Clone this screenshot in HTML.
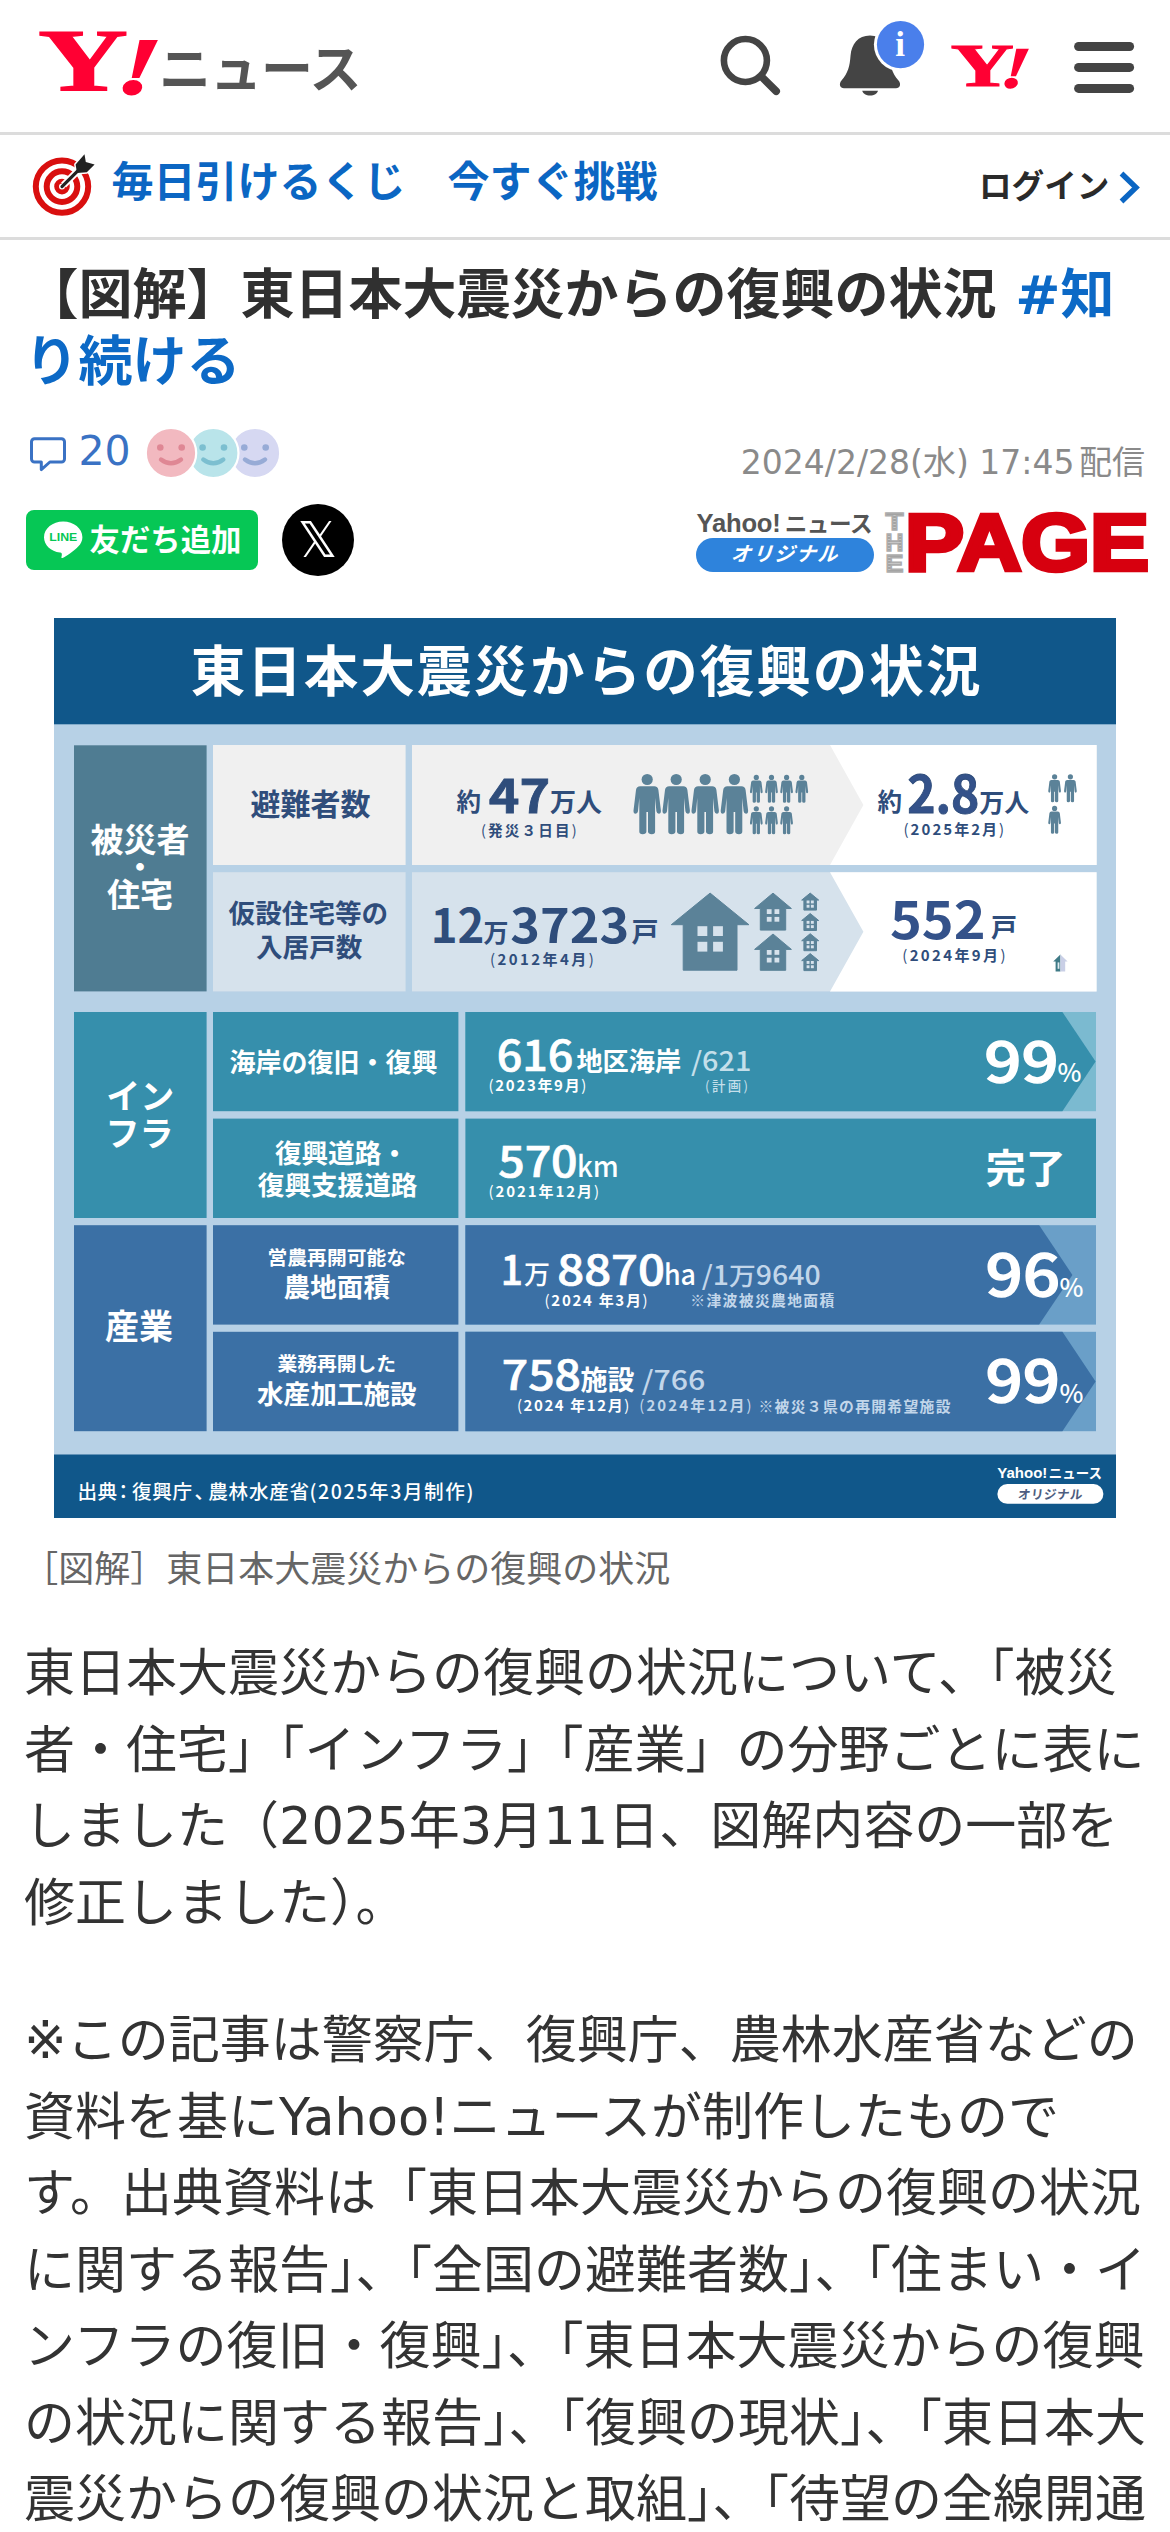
<!DOCTYPE html>
<html lang="ja">
<head>
<meta charset="utf-8">
<meta name="viewport" content="width=1170">
<title>【図解】東日本大震災からの復興の状況 - Yahoo!ニュース</title>
<style>
html,body{margin:0;padding:0;background:#fff;}
body{width:1170px;height:2532px;overflow:hidden;position:relative;
  font-family:"DejaVu Sans","Noto Sans CJK JP",sans-serif;color:#222;-webkit-font-smoothing:antialiased;}
.abs{position:absolute;}
/* header */
#hdr{left:0;top:0;width:1170px;height:132px;border-bottom:3px solid #dcdcdc;background:#fff;}
#logo-news{left:159px;top:30px;font-size:52px;line-height:80px;font-weight:700;color:#555;letter-spacing:-1px;white-space:nowrap;}
/* promo bar */
#promo{left:0;top:135px;width:1170px;height:102px;border-bottom:3px solid #dcdcdc;background:#fff;}
#promo-txt{left:111.5px;top:152.3px;font-size:42px;line-height:62px;font-weight:700;color:#0b66c3;white-space:nowrap;}
#login{left:979px;top:160.5px;font-size:32.6px;line-height:52px;font-weight:700;color:#2a2a2a;white-space:nowrap;}
/* title */
#title{left:24.5px;top:261.8px;width:1120px;font-size:54px;line-height:67px;font-weight:700;color:#303030;margin:0;}
#title a{color:#0c69c6;text-decoration:none;}
#cmt{left:78.5px;top:424.2px;font-size:41px;line-height:54px;color:#3a72c4;}
#date span{margin-left:4.6px;}
#date{right:25px;top:438.6px;font-size:33px;line-height:48px;color:#8a8a8a;white-space:nowrap;}
#line-btn{left:26px;top:510px;width:232px;height:60px;border-radius:8px;background:#06c755;}
#line-txt{left:89.5px;top:517.6px;font-size:30.4px;line-height:46px;font-weight:700;color:#fff;white-space:nowrap;}
#xbtn{left:282px;top:504px;width:72px;height:72px;border-radius:50%;background:#000;}
#xlogo{left:281.6px;top:504px;width:72px;height:72px;line-height:73px;text-align:center;color:#fff;font-family:"DejaVu Sans",sans-serif;font-size:49px;}
#ynews{left:696.5px;top:505.5px;font-family:"Liberation Sans","Noto Sans CJK JP",sans-serif;font-size:25.6px;line-height:34px;font-weight:700;color:#555;white-space:nowrap;letter-spacing:-0.2px;}
#ynews span{font-size:22.6px;margin-left:4px;letter-spacing:-0.4px;}
#pill{left:696px;top:538px;width:178px;height:34px;border-radius:17px;background:#2e83dc;}
#pill-txt{left:696px;top:538px;width:178px;height:34px;line-height:33px;text-align:center;color:#fff;font-size:20px;font-weight:700;font-style:italic;letter-spacing:1.6px;transform:skewX(-4deg);}
/* caption / body */
#cap{left:22.2px;top:1542.8px;font-size:36px;line-height:54px;color:#666;white-space:nowrap;}
#body1{left:24px;top:1636px;width:1130px;font-size:51px;line-height:76.5px;color:#333;margin:0;}
#body2{left:24px;top:2003px;width:1130px;font-size:51px;line-height:76.5px;color:#333;margin:0;}
#fig{left:54px;top:618px;width:1062px;height:900px;}
</style>
</head>
<body>
<!-- HEADER -->
<div id="hdr" class="abs"></div>
<svg id="ylogo" class="abs" style="left:30px;top:20px;width:140px;height:90px" viewBox="0 0 140 90">
  <text x="8" y="70.4" font-family="'Liberation Serif','DejaVu Serif',serif" font-weight="700" font-size="88" fill="#ff0033" stroke="#ff0033" stroke-width="1.2" textLength="90" lengthAdjust="spacingAndGlyphs">Y</text>
  <text x="86" y="73.2" font-family="'Liberation Serif','DejaVu Serif',serif" font-weight="700" font-style="italic" font-size="79" fill="#ff0033" stroke="#ff0033" stroke-width="2.6" textLength="39" lengthAdjust="spacingAndGlyphs" transform="skewX(-7) translate(9,0)">!</text>
</svg>
<div id="logo-news" class="abs">ニュース</div>
<svg id="hicons" class="abs" style="left:700px;top:10px;width:460px;height:115px" viewBox="700 10 460 115">
  <!-- search -->
  <circle cx="745.4" cy="60.5" r="21.5" fill="none" stroke="#444" stroke-width="6.6"/>
  <line x1="761.5" y1="76.6" x2="776.2" y2="91.3" stroke="#444" stroke-width="7.6" stroke-linecap="round"/>
  <!-- bell -->
  <path d="M870 35.6C858 35.6 851.5 44 850.5 56C849.8 66 848 73 841.5 80.5C838.5 84 840 88.2 844 88.2L896 88.2C900 88.2 901.5 84 898.5 80.5C892 73 890.2 66 889.5 56C888.5 44 882 35.6 870 35.6Z" fill="#444"/>
  <path d="M862.2 90.8h15.8c-.8 3-3.8 4.8-7.9 4.8s-7.1-1.8-7.9-4.8z" fill="#444"/>
  <circle cx="900.5" cy="44.6" r="26.6" fill="#fff"/>
  <circle cx="900.5" cy="44.6" r="23.6" fill="#4a7feb"/>
  <text x="900" y="56" text-anchor="middle" font-family="'Liberation Serif','DejaVu Serif',serif" font-weight="700" font-size="35" fill="#fff">i</text>
  <!-- small Y! -->
  <text x="950.5" y="86" font-family="'Liberation Serif','DejaVu Serif',serif" font-weight="700" font-size="62" fill="#ff0033" stroke="#ff0033" stroke-width="1" textLength="63.5" lengthAdjust="spacingAndGlyphs">Y</text>
  <text x="1002" y="87.5" font-family="'Liberation Serif','DejaVu Serif',serif" font-weight="700" font-style="italic" font-size="57" fill="#ff0033" stroke="#ff0033" stroke-width="1.8" textLength="27" lengthAdjust="spacingAndGlyphs" transform="skewX(-7) translate(8.6,0)">!</text>
  <!-- hamburger -->
  <g stroke="#444" stroke-width="9" stroke-linecap="round">
    <line x1="1078.6" y1="46.5" x2="1129.6" y2="46.5"/>
    <line x1="1078.6" y1="67.4" x2="1129.6" y2="67.4"/>
    <line x1="1078.6" y1="88.4" x2="1129.6" y2="88.4"/>
  </g>
</svg>
<!-- PROMO -->
<div id="promo" class="abs"></div>
<svg id="bull" class="abs" style="left:20px;top:140px;width:100px;height:90px" viewBox="20 140 100 90">
  <circle cx="62" cy="186.6" r="26.2" fill="#fff" stroke="#d90f0f" stroke-width="6"/>
  <circle cx="62" cy="186.6" r="15.3" fill="#fff" stroke="#d90f0f" stroke-width="6"/>
  <circle cx="62" cy="186.6" r="5.4" fill="#fff" stroke="#d90f0f" stroke-width="4.8"/>
  <line x1="63.5" y1="185.1" x2="80" y2="168.6" stroke="#fff" stroke-width="7" />
  <path d="M84.5 154.3L85.8 162L94.6 164.4L86.8 172.2L77 173L75.6 164.6z" fill="#fff" stroke="#fff" stroke-width="3" stroke-linejoin="round"/>
  <line x1="62" y1="186.6" x2="80" y2="168.6" stroke="#222" stroke-width="3.2" stroke-linecap="round"/>
  <path d="M84.5 154.3L85.8 162L94.6 164.4L86.8 172.2L77 173L75.6 164.6z" fill="#222"/>
</svg>
<svg class="abs" style="left:1110px;top:165px;width:40px;height:46px" viewBox="1110 165 40 46">
  <path d="M1121.5 173.5L1136 187.5L1121.5 201.5" fill="none" stroke="#0b66c3" stroke-width="5.4"/>
</svg>
<div id="promo-txt" class="abs">毎日引けるくじ　今すぐ挑戦</div>
<div id="login" class="abs">ログイン</div>
<!-- TITLE -->
<h1 id="title" class="abs">【図解】東日本大震災からの復興の状況 <a>#知<br>り続ける</a></h1>
<svg class="abs" style="left:20px;top:420px;width:280px;height:70px" viewBox="20 420 280 70">
  <path d="M34.5 438.8h27a3 3 0 0 1 3 3v17.2a3 3 0 0 1 -3 3h-11.6l-8.6 7.6v-7.6h-6.8a3 3 0 0 1 -3 -3v-17.2a3 3 0 0 1 3 -3z" fill="none" stroke="#3a72c4" stroke-width="3" stroke-linejoin="round"/>
  <g>
    <circle cx="255" cy="453" r="25.2" fill="#d6d8f2" stroke="#fff" stroke-width="2.2"/>
    <circle cx="244.3" cy="447.5" r="3.3" fill="#97abd6"/><circle cx="265.7" cy="447.5" r="3.3" fill="#97abd6"/>
    <path d="M245 459.5q10 7.6 20 0" fill="none" stroke="#97abd6" stroke-width="4.4" stroke-linecap="round"/>
    <circle cx="213.3" cy="453" r="25.2" fill="#b9e4ea" stroke="#fff" stroke-width="2.2"/>
    <circle cx="202.6" cy="447.5" r="3.3" fill="#7cbfd0"/><circle cx="224" cy="447.5" r="3.3" fill="#7cbfd0"/>
    <path d="M203.3 459.5q10 7.6 20 0" fill="none" stroke="#7cbfd0" stroke-width="4.4" stroke-linecap="round"/>
    <circle cx="171" cy="453" r="25.2" fill="#f2b9c0" stroke="#fff" stroke-width="2.2"/>
    <circle cx="160.3" cy="447.5" r="3.3" fill="#df8794"/><circle cx="181.7" cy="447.5" r="3.3" fill="#df8794"/>
    <path d="M161 459.5q10 7.6 20 0" fill="none" stroke="#df8794" stroke-width="4.4" stroke-linecap="round"/>
  </g>
</svg>
<div id="cmt" class="abs">20</div>
<div id="date" class="abs">2024/2/28(水) 17:45<span>配信</span></div>
<div id="line-btn" class="abs"></div>
<svg class="abs" style="left:40px;top:516px;width:48px;height:48px" viewBox="40 516 48 48">
  <path d="M63.2 521.6c-10.6 0-19.2 7-19.2 15.600000000000001 0 7.7 6.8 14.2 16 15.4.6.1 1.5.4 1.7.9.2.5.1 1.200000000000001.1 1.7l-.3 1.6c-.1.5-.4 1.9 1.6 1 2.1-.9 11.100000000000001-6.5 15.1-11.2 2.8-3 4.2-6.100000000000001 4.2-9.4 0-8.6-8.6-15.6-19.2-15.6z" fill="#fff"/>
  <text x="63.3" y="541.3" text-anchor="middle" font-family="'Liberation Sans','DejaVu Sans',sans-serif" font-weight="700" font-size="11.6" fill="#06c755" textLength="28" lengthAdjust="spacingAndGlyphs">LINE</text>
</svg>
<div id="line-txt" class="abs">友だち追加</div>
<div id="xbtn" class="abs"></div>
<div id="xlogo" class="abs">&#x1D54F;</div>
<!-- publisher logos -->
<div id="ynews" class="abs">Yahoo!<span>ニュース</span></div>
<div id="pill" class="abs"></div>
<div id="pill-txt" class="abs">オリジナル</div>
<svg class="abs" style="left:880px;top:505px;width:275px;height:75px" viewBox="880 505 275 75">
  <defs>
    <pattern id="stp" width="4" height="3" patternUnits="userSpaceOnUse"><rect width="4" height="2" fill="#a3a3a3"/><rect y="2" width="4" height="1" fill="#c6c6c6"/></pattern>
  </defs>
  <g font-family="'Liberation Sans','DejaVu Sans',sans-serif" font-weight="700" font-size="23" fill="url(#stp)" stroke="#adadad" stroke-width="1.4" text-anchor="middle">
    <text x="894.5" y="530" textLength="18" lengthAdjust="spacingAndGlyphs">T</text>
    <text x="894.5" y="551" textLength="18" lengthAdjust="spacingAndGlyphs">H</text>
    <text x="894.5" y="572" textLength="18" lengthAdjust="spacingAndGlyphs">E</text>
  </g>
  <text x="905" y="570.4" font-family="'Liberation Sans','DejaVu Sans',sans-serif" font-weight="700" font-size="80" fill="#d7000f" stroke="#d7000f" stroke-width="4.4" stroke-linejoin="miter" textLength="244" lengthAdjust="spacingAndGlyphs">PAGE</text>
</svg>
<!-- FIGURE -->
<svg id="fig" class="abs" viewBox="54 618 1062 900" font-family="'Noto Sans CJK JP','Liberation Sans',sans-serif" font-weight="700">
<rect x="54" y="618" width="1062" height="900" fill="#b7d1e6"/>
<rect x="54" y="618" width="1062" height="106.3" fill="#10578a"/>
<rect x="54" y="1454.5" width="1062" height="63.5" fill="#10578a"/>
<text x="586.6" y="690.5" text-anchor="middle" font-size="54.5" fill="#fff" letter-spacing="2.05">東日本大震災からの復興の状況</text>
<rect x="74" y="745.3" width="132.6" height="246.1" fill="#4f7c92"/>
<g fill="#fff" text-anchor="middle"><text x="140" y="851.5" font-size="33">被災者</text><text x="140" y="878" font-size="30">・</text><text x="140" y="907" font-size="33">住宅</text></g>
<rect x="213" y="745" width="192.6" height="120" fill="#f0f0f0"/>
<rect x="412" y="745" width="684.6" height="120" fill="#f0f0f0"/>
<path d="M830 745H1096.6V865H830L863.4 805Z" fill="#fff"/>
<text x="310.5" y="814.5" text-anchor="middle" font-size="30" fill="#2f4d7b">避難者数</text>
<rect x="213" y="872.2" width="192.6" height="119.2" fill="#d6e2ec"/>
<rect x="412" y="872.2" width="684.6" height="119.2" fill="#d6e2ec"/>
<path d="M830 872.2H1096.6V991.4H830L863.4 931.8Z" fill="#fff"/>
<g fill="#2f4d7b" text-anchor="middle" font-size="26.6"><text x="308.4" y="923.4">仮設住宅等の</text><text x="309.2" y="957.4">入居戸数</text></g>
<g fill="#2f4d7b">
<text x="456.6" y="810.6" font-size="24.5">約</text>
<text x="488.8" y="813.4" font-size="46.5" font-weight="700" textLength="61.4" lengthAdjust="spacingAndGlyphs" stroke="#2f4d7b" stroke-width="0.8">47</text>
<text x="550" y="812" font-size="26">万人</text>
<text x="481.0" y="836" font-size="14.6" font-weight="700" textLength="95.6" lengthAdjust="spacing"><tspan font-weight="400">(</tspan>発災３日目<tspan font-weight="400">)</tspan></text>
<text x="877.5" y="811.4" font-size="24.5">約</text>
<text x="907.2" y="813" font-size="51.5" font-weight="700" fill="#34528a" textLength="72.2" lengthAdjust="spacingAndGlyphs" stroke="#2f4d7b" stroke-width="0.9">2.8</text>
<text x="979.2" y="812.4" font-size="25">万人</text>
<text x="903.5" y="835" font-size="15" font-weight="700" textLength="100.7" lengthAdjust="spacing"><tspan font-weight="400">(</tspan>2025年2月<tspan font-weight="400">)</tspan></text>
<text x="430.7" y="943.4" font-size="47" font-weight="700" textLength="53.7" lengthAdjust="spacingAndGlyphs">12</text>
<text x="483.6" y="941.6" font-size="25">万</text>
<text x="510.3" y="943.4" font-size="47" font-weight="700" textLength="118.9" lengthAdjust="spacingAndGlyphs">3723</text>
<text x="631.4" y="941.6" font-size="27">戸</text>
<text x="490.0" y="964.6" font-size="15" font-weight="700" textLength="103.8" lengthAdjust="spacing"><tspan font-weight="400">(</tspan>2012年4月<tspan font-weight="400">)</tspan></text>
<text x="889.9" y="938.8" font-size="51.5" font-weight="700" fill="#34528a" textLength="95.7" lengthAdjust="spacingAndGlyphs">552</text>
<text x="991" y="937.4" font-size="26">戸</text>
<text x="902.2" y="961.4" font-size="15" font-weight="700" textLength="103.3" lengthAdjust="spacing"><tspan font-weight="400">(</tspan>2024年9月<tspan font-weight="400">)</tspan></text>
</g>
<g fill="#5b8298"><circle cx="647.2" cy="779.5" r="5.6"/><path d="M640.2 786.3L654.2 786.3Q657.8 786.3 658.4 789.9L660.9 810.4Q661.1 813.5 658.8 813.7Q656.8 813.7 656.4 811.3L655.1 797.9L655.1 831.5Q655.1 834.3 651.8 834.3Q648.2 834.3 648.0 831.5L648.0 811.9L646.4 811.9L646.4 831.5Q646.2 834.3 642.6 834.3Q639.3 834.3 639.3 831.5L639.3 797.9L638.0 811.3Q637.6 813.7 635.6 813.7Q633.3 813.5 633.5 810.4L636.0 789.9Q636.6 786.3 640.2 786.3Z"/></g>
<g fill="#5b8298"><circle cx="676.2" cy="779.5" r="5.6"/><path d="M669.2 786.3L683.2 786.3Q686.8 786.3 687.4 789.9L689.9 810.4Q690.1 813.5 687.8 813.7Q685.8 813.7 685.4 811.3L684.1 797.9L684.1 831.5Q684.1 834.3 680.8 834.3Q677.2 834.3 677.0 831.5L677.0 811.9L675.4 811.9L675.4 831.5Q675.2 834.3 671.6 834.3Q668.3 834.3 668.3 831.5L668.3 797.9L667.0 811.3Q666.6 813.7 664.6 813.7Q662.3 813.5 662.5 810.4L665.0 789.9Q665.6 786.3 669.2 786.3Z"/></g>
<g fill="#5b8298"><circle cx="705.2" cy="779.5" r="5.6"/><path d="M698.2 786.3L712.2 786.3Q715.8 786.3 716.4 789.9L718.9 810.4Q719.1 813.5 716.8 813.7Q714.8 813.7 714.4 811.3L713.1 797.9L713.1 831.5Q713.1 834.3 709.8 834.3Q706.2 834.3 706.0 831.5L706.0 811.9L704.4 811.9L704.4 831.5Q704.2 834.3 700.6 834.3Q697.3 834.3 697.3 831.5L697.3 797.9L696.0 811.3Q695.6 813.7 693.6 813.7Q691.3 813.5 691.5 810.4L694.0 789.9Q694.6 786.3 698.2 786.3Z"/></g>
<g fill="#5b8298"><circle cx="734.4" cy="779.5" r="5.6"/><path d="M727.4 786.3L741.4 786.3Q745.0 786.3 745.6 789.9L748.1 810.4Q748.3 813.5 746.0 813.7Q744.0 813.7 743.6 811.3L742.3 797.9L742.3 831.5Q742.3 834.3 739.0 834.3Q735.4 834.3 735.2 831.5L735.2 811.9L733.6 811.9L733.6 831.5Q733.4 834.3 729.8 834.3Q726.5 834.3 726.5 831.5L726.5 797.9L725.2 811.3Q724.8 813.7 722.8 813.7Q720.5 813.5 720.7 810.4L723.2 789.9Q723.8 786.3 727.4 786.3Z"/></g>
<g fill="#5b8298"><circle cx="756.3" cy="777.4" r="2.6"/><path d="M753.05 780.55L759.55 780.55Q761.21 780.55 761.49 782.22L762.65 791.72Q762.74 793.16 761.68 793.25Q760.75 793.25 760.56 792.14L759.96 785.93L759.96 801.5Q759.96 802.8 758.43 802.8Q756.76 802.8 756.67 801.5L756.67 792.42L755.93 792.42L755.93 801.5Q755.84 802.8 754.17 802.8Q752.64 802.8 752.64 801.5L752.64 785.93L752.04 792.14Q751.85 793.25 750.92 793.25Q749.86 793.16 749.95 791.72L751.11 782.22Q751.39 780.55 753.05 780.55Z"/></g>
<g fill="#5b8298"><circle cx="771.5" cy="777.4" r="2.6"/><path d="M768.25 780.55L774.75 780.55Q776.41 780.55 776.69 782.22L777.85 791.72Q777.94 793.16 776.88 793.25Q775.95 793.25 775.76 792.14L775.16 785.93L775.16 801.5Q775.16 802.8 773.63 802.8Q771.96 802.8 771.87 801.5L771.87 792.42L771.13 792.42L771.13 801.5Q771.04 802.8 769.37 802.8Q767.84 802.8 767.84 801.5L767.84 785.93L767.24 792.14Q767.05 793.25 766.12 793.25Q765.06 793.16 765.15 791.72L766.31 782.22Q766.59 780.55 768.25 780.55Z"/></g>
<g fill="#5b8298"><circle cx="786.6" cy="777.4" r="2.6"/><path d="M783.35 780.55L789.85 780.55Q791.51 780.55 791.79 782.22L792.95 791.72Q793.04 793.16 791.98 793.25Q791.05 793.25 790.86 792.14L790.26 785.93L790.26 801.5Q790.26 802.8 788.73 802.8Q787.06 802.8 786.97 801.5L786.97 792.42L786.23 792.42L786.23 801.5Q786.14 802.8 784.47 802.8Q782.94 802.8 782.94 801.5L782.94 785.93L782.34 792.14Q782.15 793.25 781.22 793.25Q780.16 793.16 780.25 791.72L781.41 782.22Q781.69 780.55 783.35 780.55Z"/></g>
<g fill="#5b8298"><circle cx="801.8" cy="777.4" r="2.6"/><path d="M798.55 780.55L805.05 780.55Q806.71 780.55 806.99 782.22L808.15 791.72Q808.24 793.16 807.18 793.25Q806.25 793.25 806.06 792.14L805.46 785.93L805.46 801.5Q805.46 802.8 803.93 802.8Q802.26 802.8 802.17 801.5L802.17 792.42L801.43 792.42L801.43 801.5Q801.34 802.8 799.67 802.8Q798.14 802.8 798.14 801.5L798.14 785.93L797.54 792.14Q797.35 793.25 796.42 793.25Q795.36 793.16 795.45 791.72L796.61 782.22Q796.89 780.55 798.55 780.55Z"/></g>
<g fill="#5b8298"><circle cx="756.3" cy="808.8" r="2.6"/><path d="M753.05 811.95L759.55 811.95Q761.21 811.95 761.49 813.62L762.65 823.12Q762.74 824.56 761.68 824.65Q760.75 824.65 760.56 823.54L759.96 817.33L759.96 832.9Q759.96 834.2 758.43 834.2Q756.76 834.2 756.67 832.9L756.67 823.82L755.93 823.82L755.93 832.9Q755.84 834.2 754.17 834.2Q752.64 834.2 752.64 832.9L752.64 817.33L752.04 823.54Q751.85 824.65 750.92 824.65Q749.86 824.56 749.95 823.12L751.11 813.62Q751.39 811.95 753.05 811.95Z"/></g>
<g fill="#5b8298"><circle cx="771.5" cy="808.8" r="2.6"/><path d="M768.25 811.95L774.75 811.95Q776.41 811.95 776.69 813.62L777.85 823.12Q777.94 824.56 776.88 824.65Q775.95 824.65 775.76 823.54L775.16 817.33L775.16 832.9Q775.16 834.2 773.63 834.2Q771.96 834.2 771.87 832.9L771.87 823.82L771.13 823.82L771.13 832.9Q771.04 834.2 769.37 834.2Q767.84 834.2 767.84 832.9L767.84 817.33L767.24 823.54Q767.05 824.65 766.12 824.65Q765.06 824.56 765.15 823.12L766.31 813.62Q766.59 811.95 768.25 811.95Z"/></g>
<g fill="#5b8298"><circle cx="786.6" cy="808.8" r="2.6"/><path d="M783.35 811.95L789.85 811.95Q791.51 811.95 791.79 813.62L792.95 823.12Q793.04 824.56 791.98 824.65Q791.05 824.65 790.86 823.54L790.26 817.33L790.26 832.9Q790.26 834.2 788.73 834.2Q787.06 834.2 786.97 832.9L786.97 823.82L786.23 823.82L786.23 832.9Q786.14 834.2 784.47 834.2Q782.94 834.2 782.94 832.9L782.94 817.33L782.34 823.54Q782.15 824.65 781.22 824.65Q780.16 824.56 780.25 823.12L781.41 813.62Q781.69 811.95 783.35 811.95Z"/></g>
<g fill="#5b8298"><circle cx="1054.6" cy="776.8" r="2.6"/><path d="M1051.35 779.95L1057.85 779.95Q1059.51 779.95 1059.79 781.62L1060.95 791.12Q1061.04 792.56 1059.98 792.65Q1059.05 792.65 1058.86 791.54L1058.26 785.33L1058.26 800.9Q1058.26 802.2 1056.73 802.2Q1055.06 802.2 1054.97 800.9L1054.97 791.82L1054.23 791.82L1054.23 800.9Q1054.14 802.2 1052.47 802.2Q1050.94 802.2 1050.94 800.9L1050.94 785.33L1050.34 791.54Q1050.15 792.65 1049.22 792.65Q1048.16 792.56 1048.25 791.12L1049.41 781.62Q1049.69 779.95 1051.35 779.95Z"/></g>
<g fill="#5b8298"><circle cx="1070.4" cy="776.8" r="2.6"/><path d="M1067.15 779.95L1073.65 779.95Q1075.31 779.95 1075.59 781.62L1076.75 791.12Q1076.84 792.56 1075.78 792.65Q1074.85 792.65 1074.66 791.54L1074.06 785.33L1074.06 800.9Q1074.06 802.2 1072.53 802.2Q1070.86 802.2 1070.77 800.9L1070.77 791.82L1070.03 791.82L1070.03 800.9Q1069.94 802.2 1068.27 802.2Q1066.74 802.2 1066.74 800.9L1066.74 785.33L1066.14 791.54Q1065.95 792.65 1065.02 792.65Q1063.96 792.56 1064.05 791.12L1065.21 781.62Q1065.49 779.95 1067.15 779.95Z"/></g>
<g fill="#5b8298"><circle cx="1054.6" cy="808.4" r="2.6"/><path d="M1051.35 811.55L1057.85 811.55Q1059.51 811.55 1059.79 813.22L1060.95 822.72Q1061.04 824.16 1059.98 824.25Q1059.05 824.25 1058.86 823.14L1058.26 816.93L1058.26 832.5Q1058.26 833.8 1056.73 833.8Q1055.06 833.8 1054.97 832.5L1054.97 823.42L1054.23 823.42L1054.23 832.5Q1054.14 833.8 1052.47 833.8Q1050.94 833.8 1050.94 832.5L1050.94 816.93L1050.34 823.14Q1050.15 824.25 1049.22 824.25Q1048.16 824.16 1048.25 822.72L1049.41 813.22Q1049.69 811.55 1051.35 811.55Z"/></g>
<path d="M710.1 893.1L748.9 924.7L737.0 924.7L737.0 970.2L683.2 970.2L683.2 924.7L671.3000000000001 924.7Z" fill="#5b8298" stroke="#5b8298" stroke-width="1" stroke-linejoin="round"/><rect x="697.5" y="926.2" width="9.8" height="9.8" fill="#d6e2ec"/><rect x="697.5" y="941.8" width="9.8" height="9.8" fill="#d6e2ec"/><rect x="713.1" y="926.2" width="9.8" height="9.8" fill="#d6e2ec"/><rect x="713.1" y="941.8" width="9.8" height="9.8" fill="#d6e2ec"/>
<path d="M773 893.1L791.4 908.5L785.7 908.5L785.7 930.1L760.3 930.1L760.3 908.5L754.6 908.5Z" fill="#5b8298" stroke="#5b8298" stroke-width="1" stroke-linejoin="round"/><rect x="766.8" y="909.2" width="4.8" height="4.8" fill="#d6e2ec"/><rect x="766.8" y="916.9" width="4.8" height="4.8" fill="#d6e2ec"/><rect x="774.5" y="909.2" width="4.8" height="4.8" fill="#d6e2ec"/><rect x="774.5" y="916.9" width="4.8" height="4.8" fill="#d6e2ec"/>
<path d="M773 934L791.4 949.4L785.7 949.4L785.7 970.3L760.3 970.3L760.3 949.4L754.6 949.4Z" fill="#5b8298" stroke="#5b8298" stroke-width="1" stroke-linejoin="round"/><rect x="766.8" y="950.0" width="4.8" height="4.8" fill="#d6e2ec"/><rect x="766.8" y="957.7" width="4.8" height="4.8" fill="#d6e2ec"/><rect x="774.5" y="950.0" width="4.8" height="4.8" fill="#d6e2ec"/><rect x="774.5" y="957.7" width="4.8" height="4.8" fill="#d6e2ec"/>
<path d="M810.2 893.1L818.7 900.1L816.5 900.1L816.5 910.1L803.9000000000001 910.1L803.9000000000001 900.1L801.7 900.1Z" fill="#5b8298" stroke="#5b8298" stroke-width="1" stroke-linejoin="round"/><rect x="806.6" y="900.5" width="2.9" height="2.9" fill="#d6e2ec"/><rect x="806.6" y="904.8" width="2.9" height="2.9" fill="#d6e2ec"/><rect x="810.9" y="900.5" width="2.9" height="2.9" fill="#d6e2ec"/><rect x="810.9" y="904.8" width="2.9" height="2.9" fill="#d6e2ec"/>
<path d="M810.2 913.5L818.7 920.5L816.5 920.5L816.5 930.5L803.9000000000001 930.5L803.9000000000001 920.5L801.7 920.5Z" fill="#5b8298" stroke="#5b8298" stroke-width="1" stroke-linejoin="round"/><rect x="806.6" y="920.9" width="2.9" height="2.9" fill="#d6e2ec"/><rect x="806.6" y="925.2" width="2.9" height="2.9" fill="#d6e2ec"/><rect x="810.9" y="920.9" width="2.9" height="2.9" fill="#d6e2ec"/><rect x="810.9" y="925.2" width="2.9" height="2.9" fill="#d6e2ec"/>
<path d="M810.2 933.7L818.7 940.7L816.5 940.7L816.5 950.7L803.9000000000001 950.7L803.9000000000001 940.7L801.7 940.7Z" fill="#5b8298" stroke="#5b8298" stroke-width="1" stroke-linejoin="round"/><rect x="806.6" y="941.1" width="2.9" height="2.9" fill="#d6e2ec"/><rect x="806.6" y="945.4" width="2.9" height="2.9" fill="#d6e2ec"/><rect x="810.9" y="941.1" width="2.9" height="2.9" fill="#d6e2ec"/><rect x="810.9" y="945.4" width="2.9" height="2.9" fill="#d6e2ec"/>
<path d="M810.2 953.6L818.7 960.6L816.5 960.6L816.5 970.6L803.9000000000001 970.6L803.9000000000001 960.6L801.7 960.6Z" fill="#5b8298" stroke="#5b8298" stroke-width="1" stroke-linejoin="round"/><rect x="806.6" y="961.0" width="2.9" height="2.9" fill="#d6e2ec"/><rect x="806.6" y="965.3" width="2.9" height="2.9" fill="#d6e2ec"/><rect x="810.9" y="961.0" width="2.9" height="2.9" fill="#d6e2ec"/><rect x="810.9" y="965.3" width="2.9" height="2.9" fill="#d6e2ec"/>
<path d="M1060.4 954.4L1053.2 961.6H1055.6V971.6H1060.4Z" fill="#3f7a86"/><path d="M1060.4 954.4L1067.6 961.6H1065.2V971.6H1060.4Z" fill="#c9cfe6"/><rect x="1057.6" y="962.4" width="1.8" height="6.4" fill="#dfeaf0"/>
<rect x="74" y="1012" width="132.6" height="206" fill="#368fac"/>
<rect x="213" y="1012" width="245.4" height="99.2" fill="#368fac"/>
<rect x="213" y="1118.6" width="245.4" height="99.4" fill="#368fac"/>
<rect x="465.4" y="1012" width="630.6" height="99.2" fill="#7bbad0"/>
<path d="M465.4 1012H1062.4L1095.6 1061.6L1062.4 1111.2H465.4Z" fill="#368fac"/>
<rect x="465.4" y="1118.6" width="630.6" height="99.4" fill="#368fac"/>
<g fill="#fff">
<g text-anchor="middle"><text x="140.2" y="1108.8" font-size="34">イン</text><text x="139.4" y="1146" font-size="34">フラ</text>
<text x="333.5" y="1072.4" font-size="26">海岸の復旧・復興</text>
<text x="341.4" y="1162.6" font-size="26.6">復興道路・</text><text x="337.6" y="1195" font-size="26.6">復興支援道路</text></g>
<text x="496.8" y="1071.2" font-size="41.5" font-weight="500" textLength="76.5" lengthAdjust="spacingAndGlyphs" stroke="#fff" stroke-width="0.7">616</text>
<text x="576.4" y="1070.6" font-size="26.2">地区海岸</text>
<text x="488.6" y="1091.4" font-size="15" font-weight="700" textLength="97.8" lengthAdjust="spacing"><tspan font-weight="400">(</tspan>2023年9月<tspan font-weight="400">)</tspan></text>
<text x="498.2" y="1177.2" font-size="41.5" font-weight="500" textLength="79.4" lengthAdjust="spacingAndGlyphs" stroke="#fff" stroke-width="0.7">570</text>
<text x="576.9" y="1177.2" font-size="29.5" font-weight="500" textLength="41.8" lengthAdjust="spacingAndGlyphs">km</text>
<text x="488.6" y="1197.4" font-size="15" font-weight="700" textLength="110.4" lengthAdjust="spacing"><tspan font-weight="400">(</tspan>2021年12月<tspan font-weight="400">)</tspan></text>
<text x="984.2" y="1081.7" font-size="54.5" font-weight="500" textLength="74.4" lengthAdjust="spacingAndGlyphs" stroke="#fff" stroke-width="1.3">99</text>
<text x="1057.4" y="1081.6" font-size="25.5" font-weight="500">%</text>
<text x="985.8" y="1182.6" font-size="39.5" font-weight="700" textLength="80.0" lengthAdjust="spacingAndGlyphs">完了</text>
</g>
<g fill="#c4dfea" font-weight="400">
<text x="690.9" y="1071.2" font-size="26.5" font-weight="500" textLength="60.4" lengthAdjust="spacingAndGlyphs">/621</text>
<text x="705.1" y="1091.4" font-size="13.4" font-weight="500" textLength="42.9" lengthAdjust="spacing"><tspan font-weight="400">(</tspan>計画<tspan font-weight="400">)</tspan></text>
</g>
<rect x="74" y="1225.2" width="132.6" height="206" fill="#3b70a5"/>
<rect x="213" y="1225.2" width="245.4" height="99.4" fill="#3b70a5"/>
<rect x="213" y="1331.8" width="245.4" height="99.4" fill="#3b70a5"/>
<rect x="465.4" y="1225.2" width="630.6" height="99.4" fill="#6a9fc8"/>
<path d="M465.4 1225.2H1039.2L1072.4 1274.9L1039.2 1324.6H465.4Z" fill="#3b70a5"/>
<rect x="465.4" y="1331.8" width="630.6" height="99.4" fill="#6a9fc8"/>
<path d="M465.4 1331.8H1062.4L1095.6 1381.5L1062.4 1431.2H465.4Z" fill="#3b70a5"/>
<g fill="#fff">
<g text-anchor="middle"><text x="139" y="1338.6" font-size="34">産業</text>
<text x="336.8" y="1265" font-size="19.8">営農再開可能な</text><text x="336.8" y="1296.8" font-size="26.6">農地面積</text>
<text x="336.8" y="1371" font-size="19.8">業務再開した</text><text x="336.8" y="1404.2" font-size="26.6">水産加工施設</text></g>
<text x="500.8" y="1284.6" font-size="40.5" font-weight="500" textLength="22.2" lengthAdjust="spacingAndGlyphs" stroke="#fff" stroke-width="0.7">1</text>
<text x="524" y="1283.6" font-size="26" font-weight="500">万</text>
<text x="557.2" y="1284.6" font-size="40.5" font-weight="500" textLength="107.8" lengthAdjust="spacingAndGlyphs" stroke="#fff" stroke-width="0.7">8870</text>
<text x="663.9" y="1284.6" font-size="29" font-weight="500" textLength="32.1" lengthAdjust="spacingAndGlyphs">ha</text>
<text x="544.6" y="1305.6" font-size="15" font-weight="700" textLength="103.1" lengthAdjust="spacing"><tspan font-weight="400">(</tspan>2024 年3月<tspan font-weight="400">)</tspan></text>
<text x="501.8" y="1389.8" font-size="40.5" font-weight="500" textLength="79.2" lengthAdjust="spacingAndGlyphs" stroke="#fff" stroke-width="0.7">758</text>
<text x="580.4" y="1389.6" font-size="27">施設</text>
<text x="516.9" y="1411.4" font-size="15" font-weight="700" textLength="112.4" lengthAdjust="spacing"><tspan font-weight="400">(</tspan>2024 年12月<tspan font-weight="400">)</tspan></text>
<text x="985.4" y="1296.4" font-size="57" font-weight="500" textLength="74.6" lengthAdjust="spacingAndGlyphs" stroke="#fff" stroke-width="1.3">96</text>
<text x="1059.4" y="1296.6" font-size="25.5" font-weight="500">%</text>
<text x="985.4" y="1402.2" font-size="57" font-weight="500" textLength="74.6" lengthAdjust="spacingAndGlyphs" stroke="#fff" stroke-width="1.3">99</text>
<text x="1059.4" y="1402.8" font-size="25.5" font-weight="500">%</text>
</g>
<g fill="#c2d6ea" font-weight="400">
<text x="701.7" y="1284.6" font-size="26.5" font-weight="500" textLength="118.9" lengthAdjust="spacingAndGlyphs">/1<tspan font-size="25">万</tspan>9640</text>
<text x="690.3" y="1306.2" font-size="14.8" font-weight="700" textLength="144.0" lengthAdjust="spacing">※津波被災農地面積</text>
<text x="641.7" y="1389.8" font-size="26.5" font-weight="500" textLength="63.5" lengthAdjust="spacingAndGlyphs">/766</text>
<text x="639.2" y="1411.4" font-size="15" font-weight="700" textLength="112.4" lengthAdjust="spacing"><tspan font-weight="400">(</tspan>2024年12月<tspan font-weight="400">)</tspan></text>
<text x="758.5" y="1411.6" font-size="14.8" font-weight="700" textLength="192.0" lengthAdjust="spacing">※被災３県の再開希望施設</text>
</g>
<text y="1499.4" font-size="19.6" font-weight="500" fill="#fff"><tspan x="77.4" textLength="39.6" lengthAdjust="spacing">出典</tspan><tspan x="113.4">：</tspan><tspan x="132" textLength="60" lengthAdjust="spacing">復興庁</tspan><tspan x="194.6">、</tspan><tspan x="208.2" textLength="101" lengthAdjust="spacing">農林水産省</tspan><tspan x="309.4" textLength="164" lengthAdjust="spacing">(2025年3月制作)</tspan></text>
<text x="1049.6" y="1478" font-size="15.2" fill="#fff" text-anchor="middle" font-family="'Liberation Sans','Noto Sans CJK JP',sans-serif" textLength="104.6" lengthAdjust="spacingAndGlyphs">Yahoo!<tspan font-size="13.6" dx="1.5">ニュース</tspan></text>
<rect x="997.4" y="1484" width="106" height="19.8" rx="9.9" fill="#fff"/>
<text x="1017.4" y="1498.6" font-size="12.6" fill="#4d5d80" textLength="64.6" lengthAdjust="spacing" transform="skewX(-6) translate(157.5,0)">オリジナル</text>
</svg>
<!-- CAPTION + BODY -->
<div id="cap" class="abs">［図解］東日本大震災からの復興の状況</div>
<p id="body1" class="abs">東日本大震災からの復興の状況について、「被災者・住宅」「インフラ」「産業」の分野ごとに表にしました（2025年3月11日、図解内容の一部を修正しました）。</p>
<p id="body2" class="abs">※この記事は警察庁、復興庁、農林水産省などの資料を基にYahoo!ニュースが制作したものです。出典資料は「東日本大震災からの復興の状況に関する報告」、「全国の避難者数」、「住まい・インフラの復旧・復興」、「東日本大震災からの復興の状況に関する報告」、「復興の現状」、「東日本大震災からの復興の状況と取組」、「待望の全線開通</p>
</body>
</html>
